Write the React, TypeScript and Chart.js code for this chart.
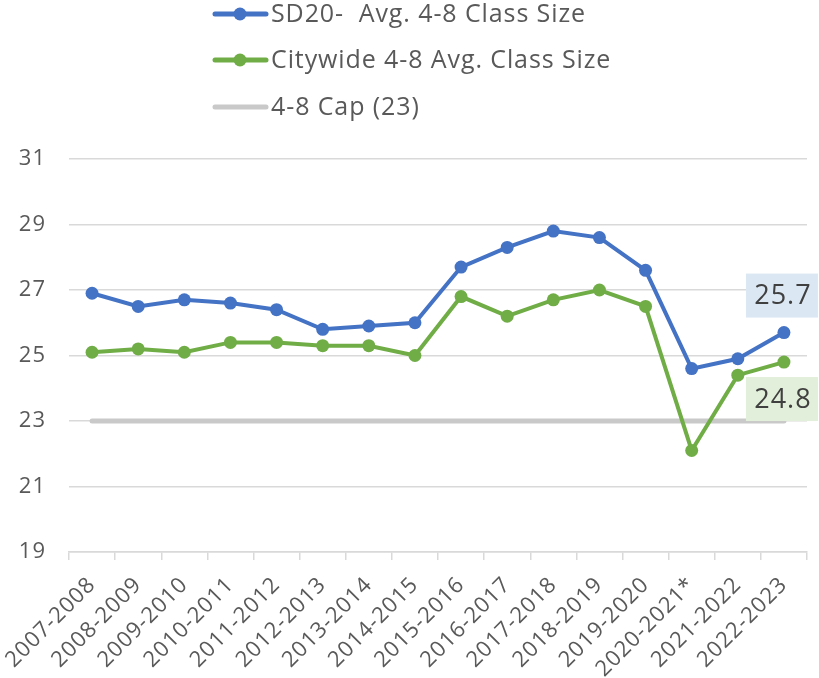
import React, { useEffect, useRef } from "react";
import { Chart, registerables } from "chart.js";

Chart.register(...registerables);

const categories = [
  "2007-2008", "2008-2009", "2009-2010", "2010-2011", "2011-2012",
  "2012-2013", "2013-2014", "2014-2015", "2015-2016", "2016-2017",
  "2017-2018", "2018-2019", "2019-2020", "2020-2021*", "2021-2022", "2022-2023",
];
const sd20Values = [26.9, 26.5, 26.7, 26.6, 26.4, 25.8, 25.9, 26.0, 27.7, 28.3, 28.8, 28.6, 27.6, 24.6, 24.9, 25.7];
const citywideValues = [25.1, 25.2, 25.1, 25.4, 25.4, 25.3, 25.3, 25.0, 26.8, 26.2, 26.7, 27.0, 26.5, 22.1, 24.4, 24.8];
const capValues = categories.map(() => 23);
const seriesNames = ["SD20-  Avg. 4-8 Class Size", "Citywide 4-8 Avg. Class Size", "4-8 Cap (23)"];
const yTicks = [19, 21, 23, 25, 27, 29, 31];

const FONT = "Open Sans";
const TEXT = "#595959";

const spacingPlugin = {
  id: "letterSpacing",
  beforeUpdate(chart: any) { chart.ctx.letterSpacing = "1px"; },
  beforeLayout(chart: any) { chart.ctx.letterSpacing = "1px"; },
  beforeDraw(chart: any) { chart.ctx.letterSpacing = "1px"; },
};

const legendPlugin = {
  id: "customLegend",
  afterDraw(chart: any) {
    const ctx = chart.ctx;
    const rows = [14, 60, 107];
    const items = [
      { name: seriesNames[0], color: "#4472c4", dot: true },
      { name: seriesNames[1], color: "#70ad47", dot: true },
      { name: seriesNames[2], color: "#c9c9c9", dot: false },
    ];
    ctx.save();
    items.forEach((it, i) => {
      const y = rows[i];
      ctx.strokeStyle = it.color;
      ctx.lineWidth = 5;
      ctx.lineCap = "round";
      ctx.beginPath();
      ctx.moveTo(215, y);
      ctx.lineTo(266, y);
      ctx.stroke();
      if (it.dot) {
        ctx.fillStyle = it.color;
        ctx.beginPath();
        ctx.arc(240, y, 6.5, 0, Math.PI * 2);
        ctx.fill();
      }
      ctx.fillStyle = TEXT;
      ctx.letterSpacing = "0.9px";
      ctx.font = `25px "${FONT}"`;
      ctx.textBaseline = "middle";
      ctx.textAlign = "left";
      ctx.fillText(it.name, 271, y + 1);
    });
    ctx.restore();
  },
};

const labelPlugin = {
  id: "endLabels",
  afterDatasetsDraw(chart: any) {
    const ctx = chart.ctx;
    const defs = [
      { ds: 1, bg: "#dce7f4", dy: -37, vals: sd20Values },
      { ds: 2, bg: "#e2efda", dy: 37, vals: citywideValues },
    ];
    ctx.save();
    defs.forEach((d) => {
      const meta = chart.getDatasetMeta(d.ds);
      const last = meta.data[meta.data.length - 1];
      const v = d.vals[d.vals.length - 1];
      const cx = last.x - 2;
      const cy = last.y + d.dy;
      const w = 72, h = 44;
      ctx.fillStyle = d.bg;
      ctx.fillRect(cx - w / 2, cy - h / 2, w, h);
      ctx.fillStyle = "#404040";
      ctx.letterSpacing = "1px";
      ctx.font = `27px "${FONT}"`;
      ctx.textAlign = "center";
      ctx.textBaseline = "middle";
      ctx.fillText(v.toFixed(1), cx + 1, cy + 1);
    });
    ctx.restore();
  },
};

export default function App() {
  const ref = useRef<HTMLCanvasElement>(null);
  useEffect(() => {
    document.body.style.margin = "0";
    const chart = new Chart(ref.current!, {
      type: "line",
      data: {
        labels: categories,
        datasets: [
          {
            label: seriesNames[2],
            data: capValues,
            borderColor: "#c9c9c9",
            borderWidth: 5,
            pointRadius: 0,
            borderCapStyle: "round",
            order: 3,
          },
          {
            label: seriesNames[0],
            data: sd20Values,
            borderColor: "#4472c4",
            backgroundColor: "#4472c4",
            borderWidth: 4,
            pointRadius: 6.5,
            pointBorderWidth: 0,
            order: 2,
          },
          {
            label: seriesNames[1],
            data: citywideValues,
            borderColor: "#70ad47",
            backgroundColor: "#70ad47",
            borderWidth: 4,
            pointRadius: 6.5,
            pointBorderWidth: 0,
            order: 1,
          },
        ],
      },
      options: {
        animation: false,
        responsive: false,
        maintainAspectRatio: false,
        layout: { padding: { top: 159, right: 12, left: 0, bottom: 0 } },
        plugins: { legend: { display: false }, tooltip: { enabled: false } },
        scales: {
          x: {
            offset: true,
            grid: {
              display: true,
              offset: true,
              drawOnChartArea: false,
              drawTicks: true,
              tickLength: 8,
              color: "#d9d9d9",
              lineWidth: 1.5,
            },
            border: { display: true, color: "#d9d9d9", width: 1.5 },
            ticks: {
              autoSkip: false,
              minRotation: 45,
              maxRotation: 45,
              color: TEXT,
              font: { family: FONT, size: 22 },
              padding: 12,
              labelOffset: 0,
            },
            afterFit: (s: any) => {
              s.height = 126;
              s.paddingLeft = 0;
              s.paddingRight = 0;
            },
          },
          y: {
            min: 19,
            max: 31,
            afterBuildTicks: (s: any) => { s.ticks = yTicks.map((v) => ({ value: v })); },
            grid: { color: "#d9d9d9", lineWidth: 1.5, drawTicks: false },
            border: { display: false },
            ticks: {
              color: TEXT,
              font: { family: FONT, size: 22 },
              padding: 23,
            },
            afterFit: (s: any) => { s.width = 69; },
          },
        },
      },
      plugins: [spacingPlugin, legendPlugin, labelPlugin],
    });
    return () => chart.destroy();
  }, []);
  return (
    <div style={{ width: 819, height: 678 }}>
      <canvas ref={ref} width={819} height={678} style={{ display: "block" }} />
    </div>
  );
}
